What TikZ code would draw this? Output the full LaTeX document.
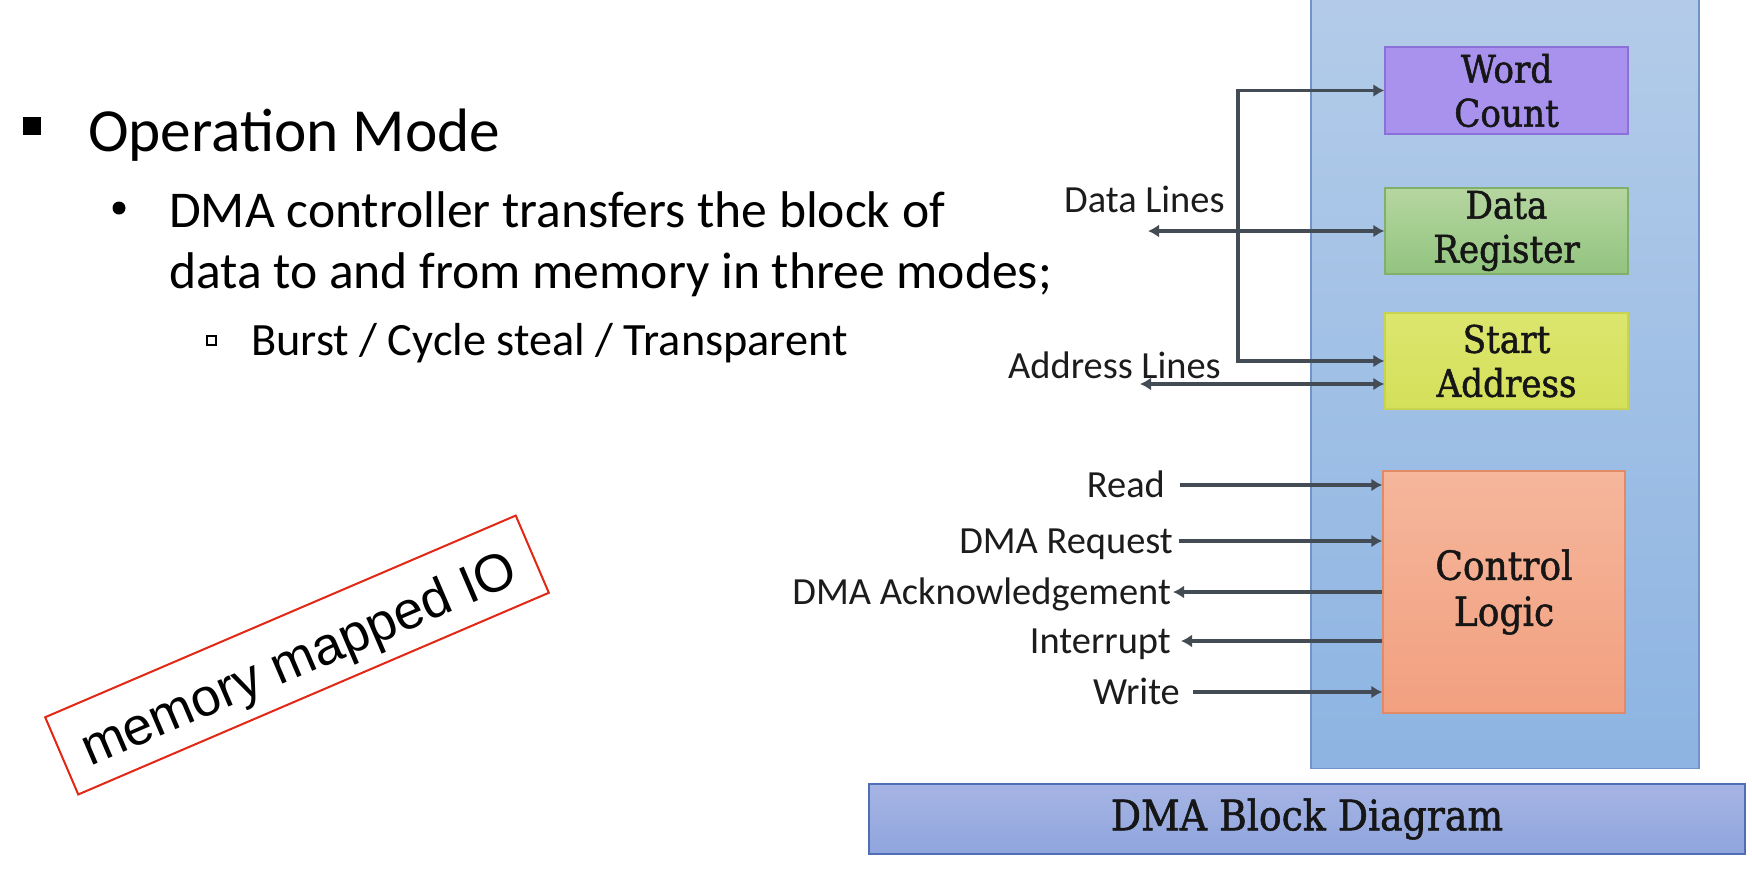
\documentclass[tikz,border=0pt]{standalone}
\usepackage{fontspec}
\setmainfont{Carlito}
\newfontfamily\slab[FakeBold=1.3]{DejaVu Serif Condensed}
\newfontfamily\arialf{Liberation Sans}
\usetikzlibrary{arrows.meta}
\definecolor{paneltop}{RGB}{180,204,233}
\definecolor{panelbot}{RGB}{141,180,226}
\definecolor{panelb}{RGB}{112,148,200}
\definecolor{wcfill}{RGB}{168,146,238}
\definecolor{wcb}{RGB}{140,112,218}
\definecolor{drtop}{RGB}{182,214,160}
\definecolor{drbot}{RGB}{146,196,127}
\definecolor{drb}{RGB}{128,176,105}
\definecolor{satop}{RGB}{220,230,110}
\definecolor{sabot}{RGB}{212,224,90}
\definecolor{sab}{RGB}{200,212,80}
\definecolor{cltop}{RGB}{245,182,155}
\definecolor{clbot}{RGB}{242,160,128}
\definecolor{clb}{RGB}{224,138,103}
\definecolor{bartop}{RGB}{166,180,228}
\definecolor{barbot}{RGB}{143,165,221}
\definecolor{barb}{RGB}{80,110,182}
\definecolor{arrowc}{RGB}{67,75,85}
\definecolor{boxtext}{RGB}{22,22,22}
\definecolor{lbltext}{RGB}{28,28,28}
\definecolor{stampred}{RGB}{226,40,20}
\begin{document}
\begin{tikzpicture}[x=1pt,y=-1pt,
  reg/.style={line width=1.5pt, minimum width=243pt, inner sep=0pt, align=center,
    font=\slab\fontsize{38}{44}\selectfont, text=boxtext},
  lbl/.style={font=\fontsize{38.4}{40}\selectfont, text=lbltext, inner sep=0pt,
    text height=25pt, text depth=0pt},
  bodytext/.style={anchor=base west, inner sep=0pt, text=black},
  arr/.style={draw=arrowc, line width=3.5pt, -{Latex[length=11pt,width=13pt]}},
  biarr/.style={draw=arrowc, line width=3.5pt, {Latex[length=11pt,width=13pt]}-{Latex[length=11pt,width=13pt]}}
]
\useasboundingbox[fill=white] (0,0) rectangle (1752,884);

% left text
\fill (23,117) rectangle (41,135);
\fill (119,208) circle (6.5);
\draw[line width=1.5pt] (207,336) rectangle (216,345);
\node[bodytext, font=\fontsize{61.3}{70}\selectfont] (om) at (88,151) {Operation Mode};
\node[bodytext, font=\fontsize{51.6}{60}\selectfont] (l1) at (169,227) {DMA controller transfers the block of};
\node[bodytext, font=\fontsize{51.6}{60}\selectfont] (l2) at (169,288) {data to and from memory in three modes;};
\node[bodytext, font=\fontsize{46.3}{50}\selectfont] (l3) at (251,355) {Burst / Cycle steal / Transparent};

% stamp
\node[draw=stampred, line width=2pt, rotate=23.2, minimum width=512pt, minimum height=84pt] (stamp) at (297,655) {};
\node[rotate=23.2, inner sep=0pt, font=\arialf\fontsize{53}{56}\selectfont] (stamptext) at (300,662) {memory mapped IO};

% panel
\node[draw=panelb, line width=1.5pt, top color=paneltop, bottom color=panelbot,
  minimum width=388pt, minimum height=785pt, anchor=south west, inner sep=0pt] (panel) at (1310,769) {};

% registers
\node[reg, draw=wcb, fill=wcfill, minimum height=87pt] (wc) at (1506.5,90.5) {Word\\Count};
\node[reg, draw=drb, top color=drtop, bottom color=drbot, minimum height=86pt] (dr) at (1506.5,231) {Data\\Register};
\node[reg, draw=sab, top color=satop, bottom color=sabot, minimum height=96pt] (sa) at (1506.5,361) {Start\\Address};
\node[reg, draw=clb, top color=cltop, bottom color=clbot, minimum width=242pt, minimum height=242pt,
  font=\slab\fontsize{40}{46}\selectfont] (cl) at (1504,592) {Control\\Logic};

% title bar
\node[draw=barb, line width=1.5pt, top color=bartop, bottom color=barbot, minimum width=876pt,
  minimum height=70pt, inner sep=0pt, font=\slab\fontsize{42}{44}\selectfont, text=boxtext] (bar) at (1307,819) {DMA Block Diagram};

% bus
\coordinate (bus) at (1238,0);
\draw[biarr] (wc.west) -- (bus |- wc.west) -- (bus |- sa.west) -- (sa.west);
\coordinate (dlend) at (1148,231);
\draw[biarr] (dlend) -- (dr.west);
\coordinate (alend) at (1140,384);
\draw[biarr] (alend) -- (alend -| sa.west);
\node[lbl, anchor=base west] (dl) at (1064,212) {Data Lines};
\node[lbl, anchor=base west] (al) at (1008,378) {Address Lines};

% control signals
\node[lbl, anchor=east] (rd) at (1165,485) {Read};
\node[lbl, anchor=east] (rq) at (1173,541) {DMA Request};
\node[lbl, anchor=east] (ak) at (1171,592) {DMA Acknowledgement};
\node[lbl, anchor=east] (ir) at (1171,641) {Interrupt};
\node[lbl, anchor=east] (wr) at (1180,692) {Write};
\draw[arr] ([xshift=15pt]rd.east) -- (rd.east -| cl.west);
\draw[arr] ([xshift=6pt]rq.east) -- (rq.east -| cl.west);
\draw[arr] (ak.east -| cl.west) -- ([xshift=2pt]ak.east);
\draw[arr] (ir.east -| cl.west) -- ([xshift=10pt]ir.east);
\draw[arr] ([xshift=13pt]wr.east) -- (wr.east -| cl.west);
\end{tikzpicture}
\end{document}
